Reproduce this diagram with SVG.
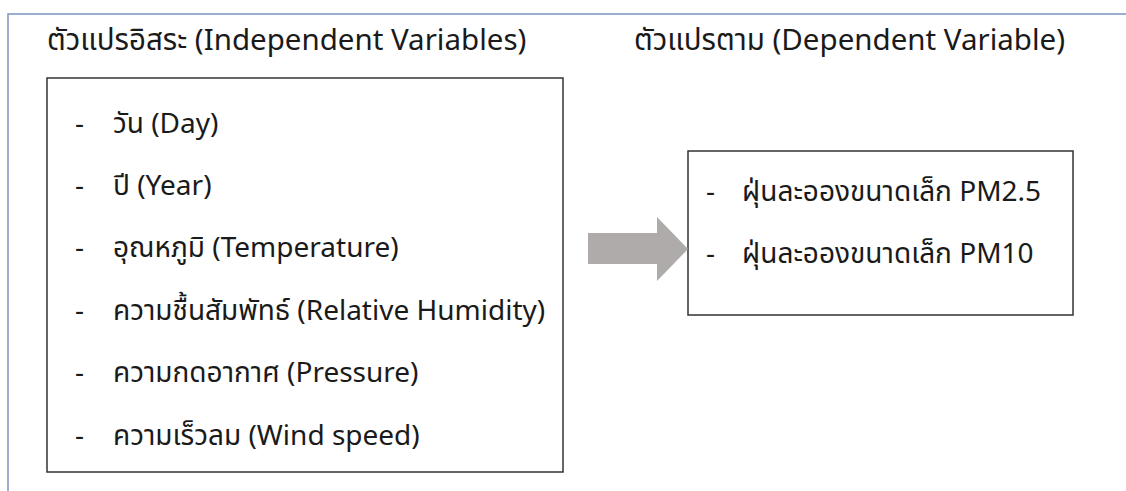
<svg xmlns="http://www.w3.org/2000/svg" width="1126" height="491" viewBox="0 0 1126 491">
  <style>
    text { font-family: "Noto Sans", "Noto Sans Thai", "Noto Sans CJK SC", sans-serif; font-size: 28px; fill: #1a1a1a; }
    .heading { font-size: 29.5px; }
    .frame { stroke: #7b93c2; stroke-width: 1.5; fill: none; }
    .box { fill: #ffffff; stroke: #333333; stroke-width: 1.5; }
    .arrow { fill: #afabab; }
  </style>

  <!-- page frame -->
  <path class="frame" d="M8,491 V14 H1126"/>

  <!-- column headings -->
  <text class="heading" x="47" y="50">ตัวแปรอิสระ (Independent Variables)</text>
  <text class="heading" x="634" y="50">ตัวแปรตาม (Dependent Variable)</text>

  <!-- independent variables -->
  <g id="independent">
    <rect class="box" x="47" y="78" width="516" height="394"/>
    <text x="75" y="133">-</text><text x="113" y="133">วัน (Day)</text>
    <text x="75" y="195">-</text><text x="113" y="195">ปี (Year)</text>
    <text x="75" y="257">-</text><text x="113" y="257">อุณหภูมิ (Temperature)</text>
    <text x="75" y="320">-</text><text x="113" y="320">ความชื้นสัมพัทธ์ (Relative Humidity)</text>
    <text x="75" y="382">-</text><text x="113" y="382">ความกดอากาศ (Pressure)</text>
    <text x="75" y="445">-</text><text x="113" y="445">ความเร็วลม (Wind speed)</text>
  </g>

  <!-- dependent variable -->
  <g id="dependent">
    <rect class="box" x="688" y="151" width="385" height="164"/>
    <text x="706" y="201">-</text><text x="742" y="201">ฝุ่นละอองขนาดเล็ก PM2.5</text>
    <text x="706" y="263">-</text><text x="742" y="263">ฝุ่นละอองขนาดเล็ก PM10</text>
  </g>

  <!-- block arrow between the two groups -->
  <g id="connectors">
    <polygon class="arrow" points="588,233 657,233 657,217 688,249 657,281 657,264 588,264"/>
  </g>
</svg>
